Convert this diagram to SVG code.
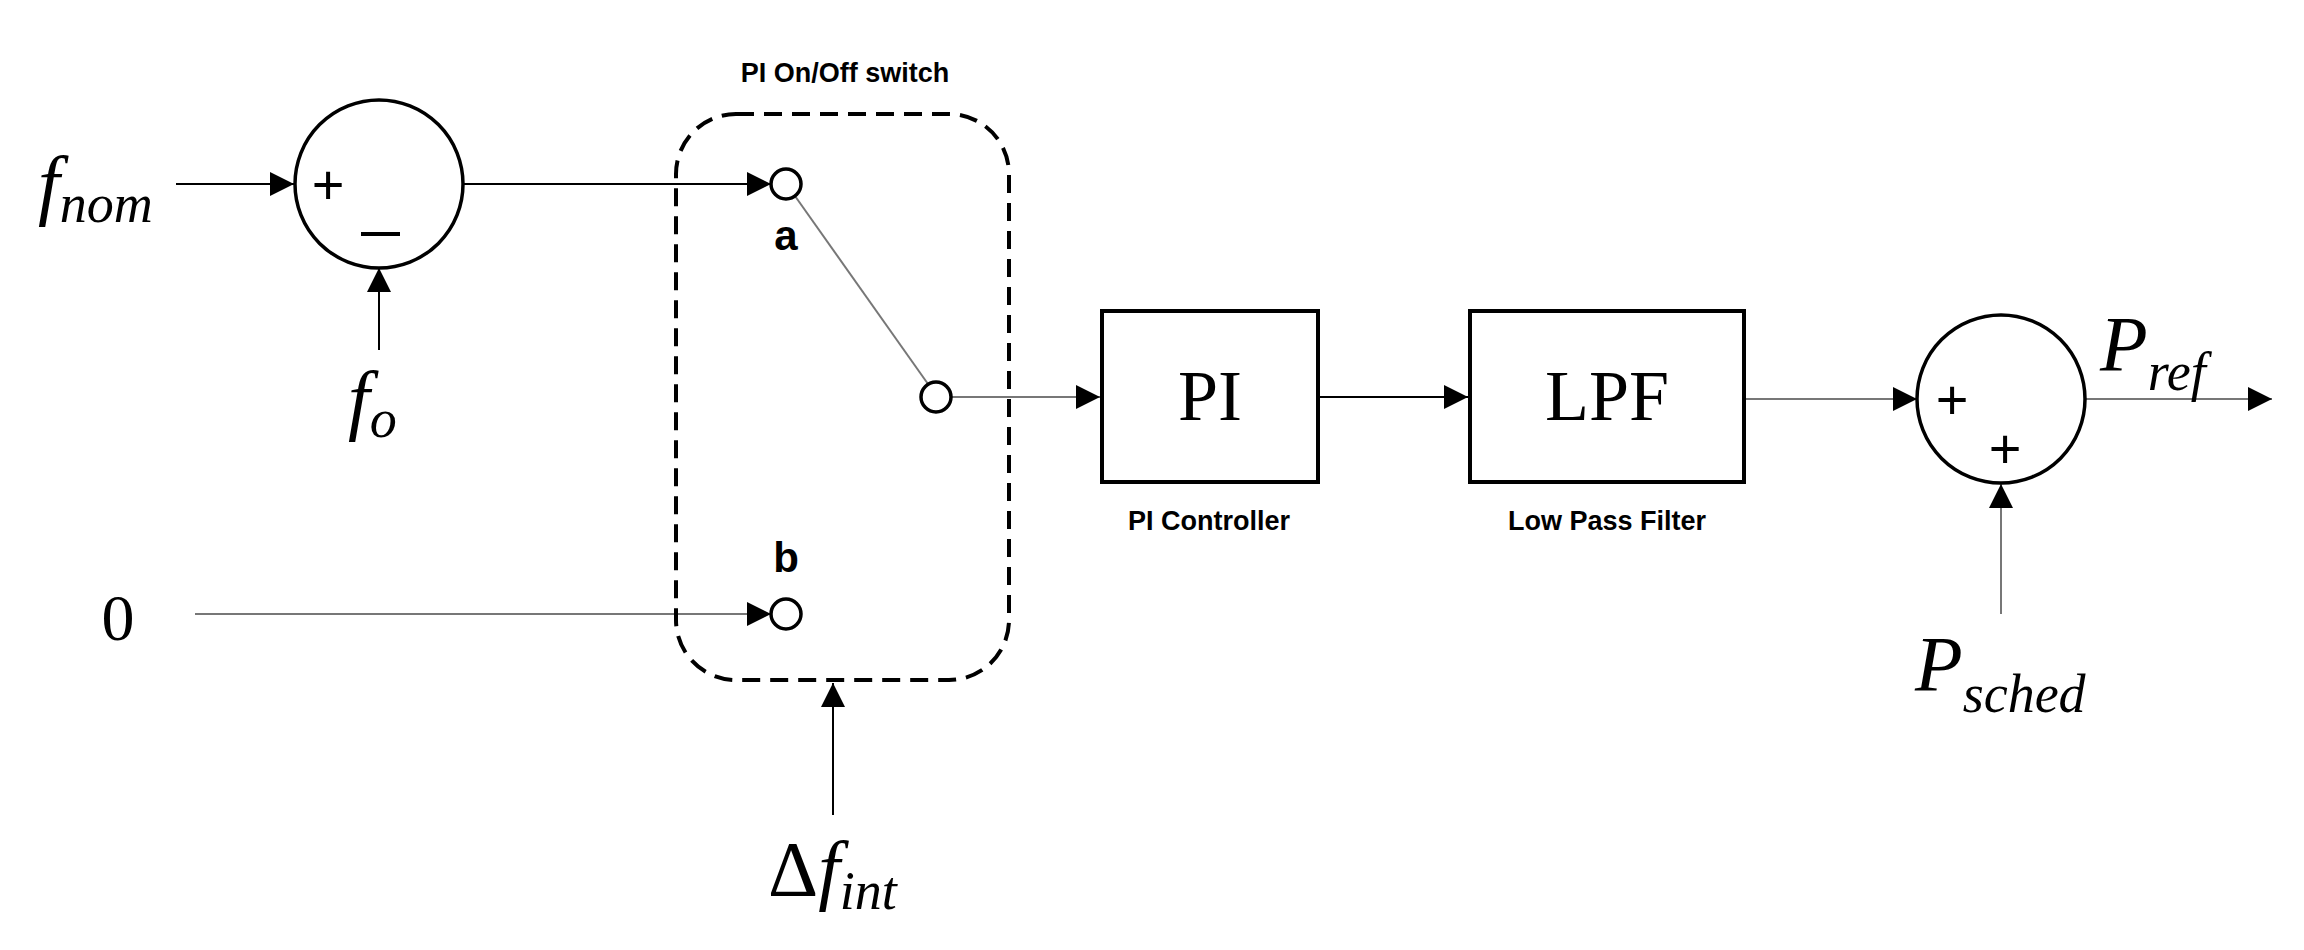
<svg xmlns="http://www.w3.org/2000/svg" width="2304" height="950" viewBox="0 0 2304 950">
<style>
.ln{stroke:#000;stroke-width:2;fill:none}
.gl{stroke:#777;stroke-width:2;fill:none}
.bx{stroke:#000;stroke-width:4;fill:#fff}
.tm{stroke:#000;stroke-width:3.5;fill:#fff}
.it{font-family:"Liberation Serif",serif;font-style:italic;fill:#000}
.rm{font-family:"Liberation Serif",serif;fill:#000}
.sb{font-family:"Liberation Sans",sans-serif;font-weight:bold;fill:#000}
.sg{font-family:"Liberation Sans",sans-serif;fill:#000;font-size:56px}
</style>
<defs>
<marker id="ah" viewBox="0 0 10 10" refX="10" refY="5" markerWidth="24" markerHeight="24" markerUnits="userSpaceOnUse" orient="auto"><path d="M0,0L10,5L0,10z" fill="#000"/></marker>
</defs>
<g id="connectors">
<line class="ln" x1="176" y1="184" x2="294" y2="184" marker-end="url(#ah)"/>
<line class="ln" x1="379" y1="350" x2="379" y2="268" marker-end="url(#ah)"/>
<line class="ln" x1="463" y1="184" x2="771" y2="184" marker-end="url(#ah)"/>
<line class="gl" x1="795" y1="196" x2="928" y2="384"/>
<line class="gl" x1="951" y1="397" x2="1100" y2="397" marker-end="url(#ah)"/>
<line class="gl" x1="195" y1="614" x2="771" y2="614" marker-end="url(#ah)"/>
<line class="ln" x1="833" y1="815" x2="833" y2="683" marker-end="url(#ah)"/>
<line class="ln" x1="1318" y1="397" x2="1468" y2="397" marker-end="url(#ah)"/>
<line class="gl" x1="1744" y1="399" x2="1917" y2="399" marker-end="url(#ah)"/>
<line class="gl" x1="2001" y1="614" x2="2001" y2="484" marker-end="url(#ah)"/>
<line class="gl" x1="2085" y1="399" x2="2272" y2="399" marker-end="url(#ah)"/>
</g>
<g id="fnom"><text class="it" x="38" y="210" font-size="78">f<tspan font-size="54" dy="12">nom</tspan></text></g>
<g id="sum1"><circle class="tm" cx="379" cy="184" r="84"/>
<text class="sg" x="328" y="204" text-anchor="middle">+</text>
<line x1="361" y1="234" x2="400" y2="234" stroke="#000" stroke-width="4"/></g>
<g id="fo"><text class="it" x="348" y="425" font-size="78">f<tspan font-size="54" dy="12">o</tspan></text></g>
<g id="switch">
<rect x="676" y="114" width="333" height="566" rx="60" fill="none" stroke="#000" stroke-width="4" stroke-dasharray="18,10"/>
<text class="sb" x="845" y="82" font-size="27" text-anchor="middle">PI On/Off switch</text>
<circle class="tm" cx="786" cy="184" r="15"/>
<text class="sb" x="786" y="250" font-size="42" text-anchor="middle">a</text>
<circle class="tm" cx="936" cy="397" r="15"/>
<text class="sb" x="786" y="572" font-size="42" text-anchor="middle">b</text>
<circle class="tm" cx="786" cy="614" r="15"/>
</g>
<g id="zero"><text class="rm" x="118" y="640" font-size="66" text-anchor="middle">0</text></g>
<g id="dfint"><text class="it" x="768" y="895" font-size="78"><tspan font-style="normal">Δ</tspan>f<tspan font-size="54" dy="14">int</tspan></text></g>
<g id="pi"><rect class="bx" x="1102" y="311" width="216" height="171"/>
<text class="rm" x="1210" y="420" font-size="72" text-anchor="middle">PI</text>
<text class="sb" x="1209" y="530" font-size="27" text-anchor="middle">PI Controller</text></g>
<g id="lpf"><rect class="bx" x="1470" y="311" width="274" height="171"/>
<text class="rm" x="1607" y="420" font-size="72" text-anchor="middle">LPF</text>
<text class="sb" x="1607" y="530" font-size="27" text-anchor="middle">Low Pass Filter</text></g>
<g id="sum2"><circle class="tm" cx="2001" cy="399" r="84"/>
<text class="sg" x="1952" y="419" text-anchor="middle">+</text>
<text class="sg" x="2005" y="468" text-anchor="middle">+</text></g>
<g id="pref"><text class="it" x="2100" y="370" font-size="78">P<tspan font-size="54" dy="20">ref</tspan></text></g>
<g id="psched"><text class="it" x="1915" y="690" font-size="78">P<tspan font-size="54" dy="22">sched</tspan></text></g>
</svg>
